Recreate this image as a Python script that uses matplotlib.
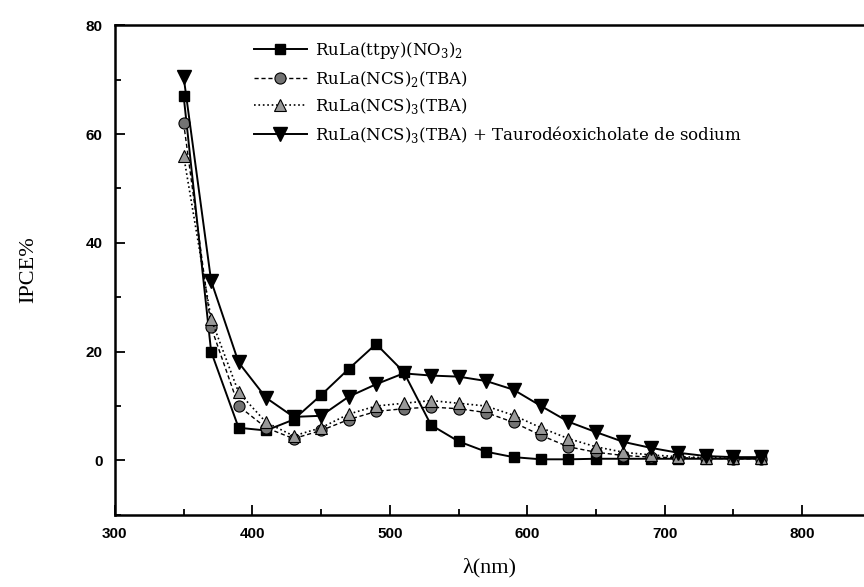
import numpy as np
import matplotlib.pyplot as plt
from matplotlib.ticker import MultipleLocator

# wavelengths (nm)
wavelength = [350, 370, 390, 410, 430, 450, 470, 490, 510, 530, 550,
              570, 590, 610, 630, 650, 670, 690, 710, 730, 750, 770]

# IPCE % for each dye
ipce_ttpy = [67, 20, 6, 5.5, 7.5, 12, 16.8, 21.4, 16.3, 6.5, 3.5,
             1.6, 0.6, 0.2, 0.2, 0.3, 0.3, 0.3, 0.3, 0.3, 0.3, 0.3]
ipce_ncs2 = [62, 24.5, 10, 6, 4, 5.5, 7.5, 9, 9.5, 9.8, 9.5,
             8.8, 7, 4.6, 2.5, 1.5, 0.9, 0.6, 0.5, 0.4, 0.3, 0.3]
ipce_ncs3 = [56, 26, 12.5, 7, 4.5, 6, 8.5, 10, 10.5, 11, 10.5,
             10, 8.3, 6, 4, 2.5, 1.5, 1, 0.7, 0.5, 0.4, 0.4]
ipce_taurodeoxy = [70.5, 33, 18, 11.5, 8, 8.2, 11.7, 14, 16, 15.6, 15.4,
                   14.6, 13, 10, 7.1, 5.2, 3.4, 2.3, 1.4, 0.8, 0.6, 0.6]

labels = [r'RuLa(ttpy)(NO$_3$)$_2$',
          r'RuLa(NCS)$_2$(TBA)',
          r'RuLa(NCS)$_3$(TBA)',
          r'RuLa(NCS)$_3$(TBA) + Taurodéoxicholate de sodium']

plt.rcParams['mathtext.fontset'] = 'custom'
plt.rcParams['mathtext.rm'] = 'DejaVu Serif'

fig = plt.figure(figsize=(8.64, 5.87), dpi=100)
ax = fig.add_axes([0.133, 0.123, 0.867, 0.834])

ax.plot(wavelength, ipce_ttpy, '-', color='black', lw=1.4, marker='s', ms=7.5,
        mfc='black', mec='black', label=labels[0])
ax.plot(wavelength, ipce_ncs2, '--', color='black', lw=1.0, marker='o', ms=8,
        mfc='0.45', mec='black', mew=0.8, label=labels[1], dashes=(3, 2))
ax.plot(wavelength, ipce_ncs3, ':', color='black', lw=1.2, marker='^', ms=9,
        mfc='0.6', mec='black', mew=0.8, label=labels[2])
ax.plot(wavelength, ipce_taurodeoxy, '-', color='black', lw=1.4, marker='v', ms=9.5,
        mfc='black', mec='black', label=labels[3])

ax.set_xlim(300, 845)
ax.set_ylim(-10, 80)
ax.xaxis.set_major_locator(MultipleLocator(100))
ax.xaxis.set_minor_locator(MultipleLocator(50))
ax.yaxis.set_major_locator(MultipleLocator(20))
ax.yaxis.set_minor_locator(MultipleLocator(10))
ax.tick_params(which='both', direction='in', width=1.3)
ax.tick_params(which='major', length=7, pad=9)
ax.tick_params(which='minor', length=4)
for lab in ax.get_xticklabels() + ax.get_yticklabels():
    lab.set_fontweight('bold')
    lab.set_fontsize(11)
    lab.set_family('Liberation Sans')

for side in ['left', 'bottom', 'top']:
    ax.spines[side].set_linewidth(1.8)
ax.spines['right'].set_visible(False)

ax.set_xlabel('λ(nm)', family='Liberation Serif', fontsize=16, labelpad=12)
ax.set_ylabel('IPCE%', family='Liberation Serif', fontsize=16, labelpad=34)

ax.legend(loc='upper left', bbox_to_anchor=(0.165, 1.0), frameon=False,
          prop={'family': 'DejaVu Serif', 'size': 12}, handlelength=3.2,
          labelspacing=0.45, handletextpad=0.5)

plt.savefig('out.png', dpi=100)
